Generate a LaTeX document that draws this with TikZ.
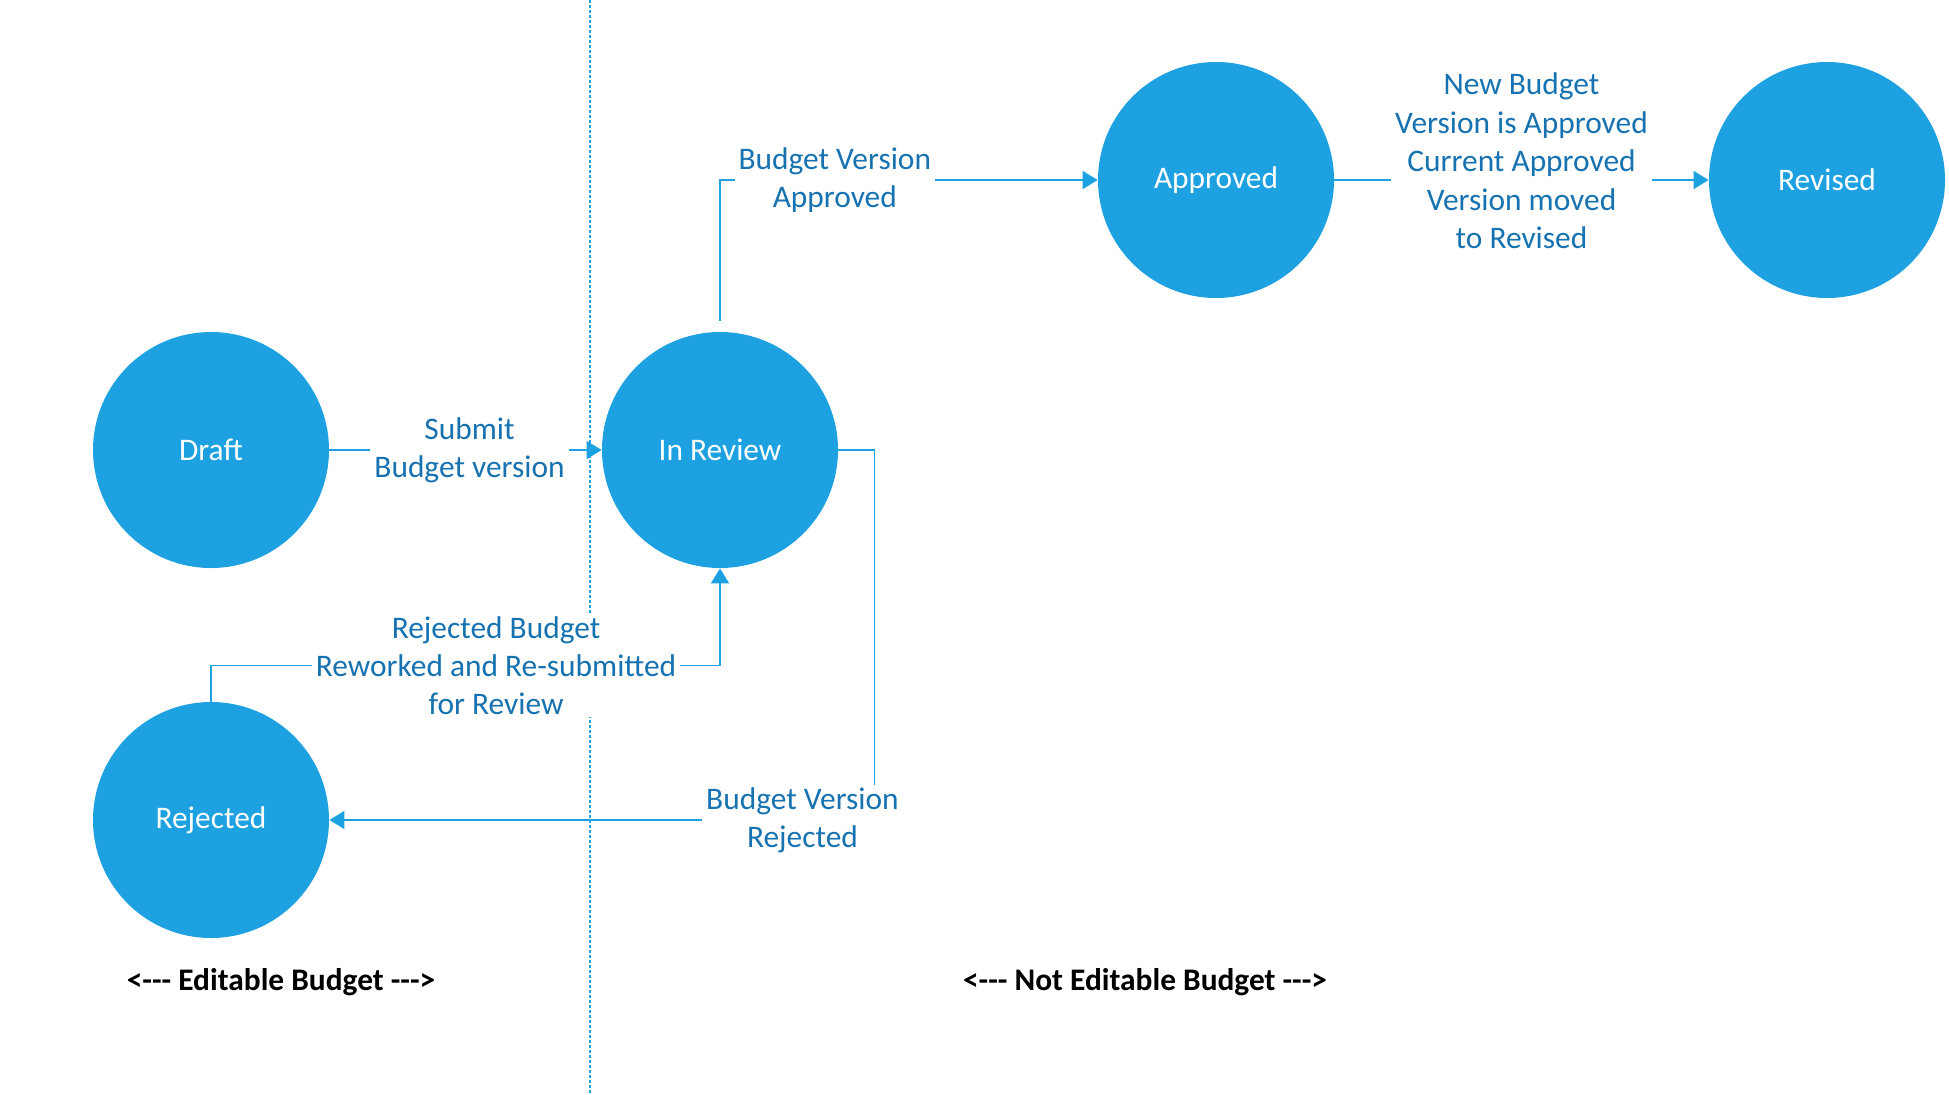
\documentclass[tikz,border=0pt]{standalone}
\usepackage{fontspec}
\setmainfont{Carlito}
\usetikzlibrary{arrows.meta}
\definecolor{vblue}{RGB}{29,161,225}
\definecolor{vtext}{RGB}{22,114,176}
\begin{document}
\begin{tikzpicture}[x=0.5pt,y=-0.5pt,font=\fontsize{15.7}{19.2}\selectfont,
  state/.style={circle,fill=vblue,minimum size=118pt,inner sep=0pt,text=white},
  conn/.style={draw=vblue,line width=0.8pt,-{Triangle[length=7.5pt,width=9pt]}},
  lbl/.style={fill=white,text=vtext,align=center,inner xsep=2pt,inner ysep=1pt},
  zone/.style={font=\fontsize{15.7}{19.2}\selectfont\bfseries}]
\useasboundingbox (0,0) rectangle (1949,1094);
% divider between editable and not editable
\draw[vblue,line width=0.6pt,dash pattern=on 1.5pt off 1pt] (590,0) -- (590,1094);
\foreach \n/\t/\x/\y in {draft/Draft/211/450,review/In Review/720/450,rejected/Rejected/211/820,approved/Approved/1216/180,revised/Revised/1827/180}{\node[state] (\n) at (\x,\y) {\t};}
\draw[conn] (draft) -- node[lbl,xshift=2pt]{Submit\\Budget version} (review);
\draw[conn,shorten <=5.5pt] (review.north) |- node[lbl,pos=0.652]{Budget Version\\Approved} (approved.west);
\draw[conn] (approved) -- node[lbl,yshift=9.5pt]{New Budget\\Version is Approved\\Current Approved\\Version moved\\to Revised} (revised);
\draw[conn] (review.east) -- ++(36,0) |- node[lbl,pos=0.566]{Budget Version\\Rejected} (rejected.east);
\draw[conn] (rejected.north) -- ++(0,-36) -| node[lbl,pos=0.28]{Rejected Budget\\Reworked and Re-submitted\\for Review} (review.south);
\node[zone] (editable) at (281,982) {<-{}-{}- Editable Budget -{}-{}->};
\node[zone] (noedit) at (1145,982) {<-{}-{}- Not Editable Budget -{}-{}->};
\end{tikzpicture}
\end{document}
